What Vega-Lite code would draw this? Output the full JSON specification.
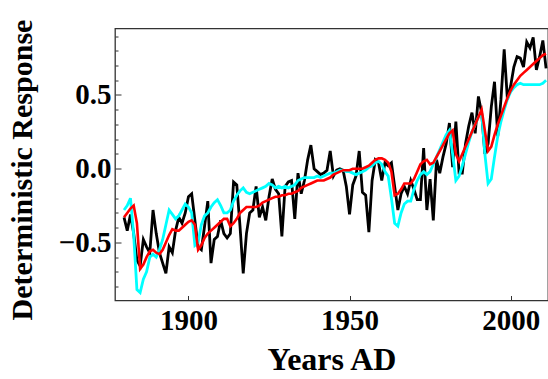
{
"$schema": "https://vega.github.io/schema/vega-lite/v6.json",
"autosize": {"type": "none"},
"width": 433, "height": 272,
"padding": {"left": 115, "top": 28.5, "right": 0, "bottom": 78.5},
"background": "white",
"config": {"view": {"stroke": "#333", "strokeWidth": 1.3}},
"data": {"values": [
{"year":1880,"obs":-0.33,"cyan":-0.28,"red":-0.33},
{"year":1881,"obs":-0.42,"cyan":-0.25,"red":-0.30},
{"year":1882,"obs":-0.31,"cyan":-0.20,"red":-0.27},
{"year":1883,"obs":-0.44,"cyan":-0.45,"red":-0.25},
{"year":1884,"obs":-0.62,"cyan":-0.82,"red":-0.37},
{"year":1885,"obs":-0.66,"cyan":-0.84,"red":-0.68},
{"year":1886,"obs":-0.48,"cyan":-0.75,"red":-0.65},
{"year":1887,"obs":-0.53,"cyan":-0.70,"red":-0.60},
{"year":1888,"obs":-0.57,"cyan":-0.60,"red":-0.56},
{"year":1889,"obs":-0.28,"cyan":-0.58,"red":-0.55},
{"year":1890,"obs":-0.44,"cyan":-0.60,"red":-0.57},
{"year":1891,"obs":-0.57,"cyan":-0.55,"red":-0.58},
{"year":1892,"obs":-0.64,"cyan":-0.48,"red":-0.55},
{"year":1893,"obs":-0.71,"cyan":-0.38,"red":-0.50},
{"year":1894,"obs":-0.53,"cyan":-0.28,"red":-0.45},
{"year":1895,"obs":-0.57,"cyan":-0.31,"red":-0.41},
{"year":1896,"obs":-0.42,"cyan":-0.34,"red":-0.42},
{"year":1897,"obs":-0.33,"cyan":-0.32,"red":-0.42},
{"year":1898,"obs":-0.37,"cyan":-0.28,"red":-0.40},
{"year":1899,"obs":-0.30,"cyan":-0.24,"red":-0.38},
{"year":1900,"obs":-0.19,"cyan":-0.26,"red":-0.36},
{"year":1901,"obs":-0.17,"cyan":-0.30,"red":-0.35},
{"year":1902,"obs":-0.35,"cyan":-0.52,"red":-0.38},
{"year":1903,"obs":-0.53,"cyan":-0.50,"red":-0.55},
{"year":1904,"obs":-0.55,"cyan":-0.38,"red":-0.52},
{"year":1905,"obs":-0.39,"cyan":-0.32,"red":-0.47},
{"year":1906,"obs":-0.22,"cyan":-0.30,"red":-0.44},
{"year":1907,"obs":-0.64,"cyan":-0.26,"red":-0.42},
{"year":1908,"obs":-0.48,"cyan":-0.23,"red":-0.40},
{"year":1909,"obs":-0.46,"cyan":-0.21,"red":-0.38},
{"year":1910,"obs":-0.35,"cyan":-0.25,"red":-0.36},
{"year":1911,"obs":-0.44,"cyan":-0.30,"red":-0.34},
{"year":1912,"obs":-0.47,"cyan":-0.30,"red":-0.34},
{"year":1913,"obs":-0.44,"cyan":-0.28,"red":-0.39},
{"year":1914,"obs":-0.09,"cyan":-0.22,"red":-0.37},
{"year":1915,"obs":-0.11,"cyan":-0.18,"red":-0.34},
{"year":1916,"obs":-0.39,"cyan":-0.15,"red":-0.30},
{"year":1917,"obs":-0.71,"cyan":-0.13,"red":-0.28},
{"year":1918,"obs":-0.44,"cyan":-0.16,"red":-0.26},
{"year":1919,"obs":-0.30,"cyan":-0.17,"red":-0.26},
{"year":1920,"obs":-0.28,"cyan":-0.16,"red":-0.26},
{"year":1921,"obs":-0.12,"cyan":-0.15,"red":-0.26},
{"year":1922,"obs":-0.33,"cyan":-0.14,"red":-0.25},
{"year":1923,"obs":-0.26,"cyan":-0.13,"red":-0.23},
{"year":1924,"obs":-0.35,"cyan":-0.12,"red":-0.22},
{"year":1925,"obs":-0.19,"cyan":-0.10,"red":-0.21},
{"year":1926,"obs":-0.07,"cyan":-0.11,"red":-0.20},
{"year":1927,"obs":-0.14,"cyan":-0.13,"red":-0.19},
{"year":1928,"obs":-0.17,"cyan":-0.12,"red":-0.19},
{"year":1929,"obs":-0.46,"cyan":-0.13,"red":-0.18},
{"year":1930,"obs":-0.12,"cyan":-0.12,"red":-0.18},
{"year":1931,"obs":-0.09,"cyan":-0.13,"red":-0.17},
{"year":1932,"obs":-0.08,"cyan":-0.12,"red":-0.17},
{"year":1933,"obs":-0.34,"cyan":-0.11,"red":-0.16},
{"year":1934,"obs":-0.03,"cyan":-0.08,"red":-0.15},
{"year":1935,"obs":-0.17,"cyan":-0.07,"red":-0.13},
{"year":1936,"obs":-0.08,"cyan":-0.06,"red":-0.12},
{"year":1937,"obs":0.06,"cyan":-0.06,"red":-0.11},
{"year":1938,"obs":0.16,"cyan":-0.06,"red":-0.10},
{"year":1939,"obs":0.00,"cyan":-0.06,"red":-0.09},
{"year":1940,"obs":-0.02,"cyan":-0.05,"red":-0.08},
{"year":1941,"obs":-0.04,"cyan":-0.06,"red":-0.08},
{"year":1942,"obs":-0.03,"cyan":-0.05,"red":-0.08},
{"year":1943,"obs":-0.01,"cyan":-0.04,"red":-0.07},
{"year":1944,"obs":0.12,"cyan":-0.03,"red":-0.06},
{"year":1945,"obs":-0.05,"cyan":-0.03,"red":-0.04},
{"year":1946,"obs":-0.01,"cyan":-0.02,"red":-0.03},
{"year":1947,"obs":0.00,"cyan":-0.01,"red":-0.02},
{"year":1948,"obs":-0.01,"cyan":-0.01,"red":-0.01},
{"year":1949,"obs":-0.12,"cyan":-0.02,"red":-0.01},
{"year":1950,"obs":-0.31,"cyan":-0.02,"red":-0.01},
{"year":1951,"obs":-0.11,"cyan":-0.03,"red":0.00},
{"year":1952,"obs":-0.05,"cyan":-0.04,"red":0.00},
{"year":1953,"obs":0.12,"cyan":-0.03,"red":0.00},
{"year":1954,"obs":-0.16,"cyan":-0.02,"red":0.00},
{"year":1955,"obs":-0.18,"cyan":-0.01,"red":0.01},
{"year":1956,"obs":-0.43,"cyan":0.01,"red":0.02},
{"year":1957,"obs":-0.08,"cyan":0.02,"red":0.04},
{"year":1958,"obs":0.06,"cyan":0.04,"red":0.06},
{"year":1959,"obs":0.04,"cyan":0.05,"red":0.07},
{"year":1960,"obs":-0.08,"cyan":0.03,"red":0.07},
{"year":1961,"obs":0.04,"cyan":-0.02,"red":0.06},
{"year":1962,"obs":0.02,"cyan":-0.05,"red":0.04},
{"year":1963,"obs":0.04,"cyan":-0.20,"red":-0.02},
{"year":1964,"obs":-0.12,"cyan":-0.37,"red":-0.18},
{"year":1965,"obs":-0.28,"cyan":-0.39,"red":-0.17},
{"year":1966,"obs":-0.17,"cyan":-0.30,"red":-0.14},
{"year":1967,"obs":-0.12,"cyan":-0.24,"red":-0.10},
{"year":1968,"obs":-0.17,"cyan":-0.22,"red":-0.10},
{"year":1969,"obs":-0.08,"cyan":-0.22,"red":-0.10},
{"year":1970,"obs":-0.14,"cyan":-0.14,"red":-0.07},
{"year":1971,"obs":-0.21,"cyan":-0.08,"red":-0.02},
{"year":1972,"obs":-0.21,"cyan":-0.04,"red":0.03},
{"year":1973,"obs":0.14,"cyan":-0.02,"red":0.05},
{"year":1974,"obs":-0.28,"cyan":-0.04,"red":0.06},
{"year":1975,"obs":-0.07,"cyan":-0.02,"red":0.03},
{"year":1976,"obs":-0.35,"cyan":0.03,"red":0.04},
{"year":1977,"obs":0.06,"cyan":0.08,"red":0.08},
{"year":1978,"obs":-0.03,"cyan":0.13,"red":0.12},
{"year":1979,"obs":0.08,"cyan":0.18,"red":0.16},
{"year":1980,"obs":0.17,"cyan":0.23,"red":0.20},
{"year":1981,"obs":0.31,"cyan":0.26,"red":0.24},
{"year":1982,"obs":0.01,"cyan":0.10,"red":0.26},
{"year":1983,"obs":0.32,"cyan":-0.08,"red":0.10},
{"year":1984,"obs":-0.03,"cyan":-0.05,"red":0.05},
{"year":1985,"obs":-0.03,"cyan":0.02,"red":0.10},
{"year":1986,"obs":0.17,"cyan":0.10,"red":0.15},
{"year":1987,"obs":0.29,"cyan":0.18,"red":0.20},
{"year":1988,"obs":0.38,"cyan":0.25,"red":0.25},
{"year":1989,"obs":0.24,"cyan":0.30,"red":0.30},
{"year":1990,"obs":0.49,"cyan":0.35,"red":0.35},
{"year":1991,"obs":0.38,"cyan":0.38,"red":0.40},
{"year":1992,"obs":0.10,"cyan":0.10,"red":0.26},
{"year":1993,"obs":0.17,"cyan":-0.10,"red":0.12},
{"year":1994,"obs":0.42,"cyan":-0.07,"red":0.15},
{"year":1995,"obs":0.59,"cyan":0.08,"red":0.23},
{"year":1996,"obs":0.22,"cyan":0.22,"red":0.30},
{"year":1997,"obs":0.47,"cyan":0.32,"red":0.36},
{"year":1998,"obs":0.81,"cyan":0.40,"red":0.42},
{"year":1999,"obs":0.47,"cyan":0.47,"red":0.48},
{"year":2000,"obs":0.56,"cyan":0.52,"red":0.53},
{"year":2001,"obs":0.69,"cyan":0.55,"red":0.57},
{"year":2002,"obs":0.76,"cyan":0.57,"red":0.60},
{"year":2003,"obs":0.75,"cyan":0.58,"red":0.63},
{"year":2004,"obs":0.69,"cyan":0.57,"red":0.65},
{"year":2005,"obs":0.86,"cyan":0.57,"red":0.67},
{"year":2006,"obs":0.82,"cyan":0.57,"red":0.69},
{"year":2007,"obs":0.89,"cyan":0.57,"red":0.71},
{"year":2008,"obs":0.67,"cyan":0.57,"red":0.73},
{"year":2009,"obs":0.76,"cyan":0.57,"red":0.75},
{"year":2010,"obs":0.87,"cyan":0.58,"red":0.77},
{"year":2011,"obs":0.68,"cyan":0.60,"red":0.78}
]},
"resolve": {"axis": {"y": "independent", "x": "independent"}},
"layer": [
{
"mark": {"type": "line", "color": "black", "strokeWidth": 2.8, "clip": true},
"encoding": {
"x": {"field": "year", "type": "quantitative", "scale": {"domain": [1877.2, 2011.6], "nice": false, "zero": false},
"axis": {"values": [1900, 1950, 2000], "format": "d", "title": "Years AD", "domain": false, "grid": false,
"tickSize": -5, "tickColor": "#333", "tickWidth": 1,
"labelFont": "Liberation Serif", "labelFontWeight": "bold", "labelFontSize": 29, "labelColor": "black", "labelPadding": 11,
"titleFont": "Liberation Serif", "titleFontWeight": "bold", "titleFontSize": 32, "titleColor": "black", "titlePadding": 9}},
"y": {"field": "obs", "type": "quantitative", "scale": {"domain": [-0.894, 0.951], "nice": false, "zero": false},
"axis": {"values": [-0.5, 0, 0.5], "format": ".1f", "title": "Deterministic Response", "domain": false, "grid": false,
"tickSize": -6, "tickColor": "#333", "tickWidth": 1,
"labelFont": "Liberation Serif", "labelFontWeight": "bold", "labelFontSize": 29, "labelColor": "black", "labelPadding": 10,
"titleFont": "Liberation Serif", "titleFontWeight": "bold", "titleFontSize": 30, "titleColor": "black", "titlePadding": 21, "titleY": 141}}
}
},
{
"mark": {"type": "line", "color": "#00FFFF", "strokeWidth": 2.8, "clip": true},
"encoding": {
"x": {"field": "year", "type": "quantitative", "axis": null},
"y": {"field": "cyan", "type": "quantitative",
"axis": {"orient": "left", "values": [-0.8, -0.7, -0.6, -0.4, -0.3, -0.2, -0.1, 0.1, 0.2, 0.3, 0.4, 0.6, 0.7, 0.8, 0.9], "labels": false, "title": null, "domain": false, "grid": false, "tickSize": -3, "tickColor": "#333", "tickWidth": 1}}
}
},
{
"mark": {"type": "line", "color": "#FF0000", "strokeWidth": 2.6, "clip": true},
"encoding": {
"x": {"field": "year", "type": "quantitative", "axis": null},
"y": {"field": "red", "type": "quantitative", "axis": null}
}
}
]
}
